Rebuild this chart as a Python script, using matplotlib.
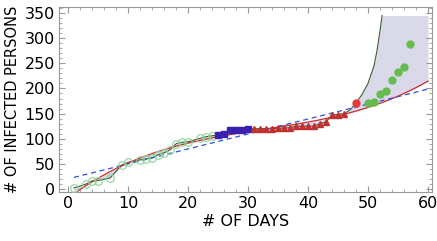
"""Infected persons per day with linear and cubic fits."""

import matplotlib.pyplot as plt
import numpy as np

# green open circles (early phase)
DAYS_A = [1, 3, 4, 5, 7, 9, 10, 12, 13, 14, 15, 16, 17, 18, 19, 20, 22, 23, 24]
CASES_A = [2, 10, 16, 17, 22, 48, 53, 58, 60, 62, 68, 72, 78, 90, 93, 94, 101, 104, 106]

# blue squares
DAYS_B = [25, 26, 27, 28, 29, 30]
CASES_B = [107, 110, 117, 117, 117, 120]

# red triangles
DAYS_C = [31, 32, 33, 34, 35, 36, 37, 38, 39, 40, 41, 42, 43, 44, 45, 46]
CASES_C = [120, 120, 120, 120, 121, 121, 122, 125, 125, 125, 125, 130, 133, 148, 148, 150]

# red circle
DAYS_D = [48]
CASES_D = [171]

# green filled circles (late phase)
DAYS_E = [50, 51, 52, 53, 54, 55, 56, 57]
CASES_E = [171, 174, 189, 195, 216, 233, 242, 288]

# smooth tail of the connecting line after day 46
TAIL_DAYS = [47, 48, 49, 50, 51, 51.5, 52, 52.35]
TAIL_CASES = [157, 171, 188, 210, 245, 275, 315, 345]

FIT_END = 48
CAP = 345


def main() -> None:
    fit_x = np.array(DAYS_A + DAYS_B + DAYS_C + DAYS_D, dtype=float)
    fit_y = np.array(CASES_A + CASES_B + CASES_C + CASES_D, dtype=float)
    mask = fit_x <= FIT_END
    lin = np.polyfit(fit_x[mask], fit_y[mask], 1)
    cub = np.polyfit(fit_x[mask], fit_y[mask], 3)

    line_x = np.array(DAYS_A + DAYS_B + DAYS_C + TAIL_DAYS, dtype=float)
    line_y = np.array(CASES_A + CASES_B + CASES_C + TAIL_CASES, dtype=float)

    xs = np.linspace(1, 60, 600)
    red = np.polyval(cub, xs)
    green = np.interp(xs, line_x, line_y, right=1e4)
    green = np.minimum(green, CAP)

    fig = plt.figure(figsize=(4.37, 2.41), dpi=100)
    ax = fig.add_axes([0.135, 0.203, 0.854, 0.768])

    ax.fill_between(xs, green, red, color="#d9d9ea", lw=0, zorder=1)
    ax.plot(line_x, line_y, color="#3d5a2e", lw=0.8, zorder=2)
    ax.plot(xs, red, color="#d42a2a", lw=0.9, zorder=3)
    xl = np.array([1, 60])
    ax.plot(xl, np.polyval(lin, xl), color="#3050e0", lw=0.9, ls=(0, (4, 3)), zorder=3)

    ax.plot(DAYS_A, CASES_A, "o", ms=5.5, mfc="none", mec="#8cd49a", mew=0.8, zorder=4)
    ax.plot(DAYS_B, CASES_B, "s", ms=4.5, color="#3a20b0", zorder=4)
    ax.plot(DAYS_C, CASES_C, "^", ms=4.5, color="#c03030", zorder=4)
    ax.plot(DAYS_D, CASES_D, "o", ms=5, color="#e83838", zorder=4)
    ax.plot(DAYS_E, CASES_E, "o", ms=5, color="#66bb4e", zorder=4)

    ax.set_xlim(-1.5, 60.7)
    ax.set_ylim(-6, 362)
    ax.set_xticks(range(0, 61, 10))
    ax.set_xticks(range(0, 61, 2), minor=True)
    ax.set_yticks(range(0, 351, 50))
    ax.set_yticks(range(0, 361, 10), minor=True)
    ax.tick_params(which="both", direction="in", top=True, right=True, color="#999999",
                   labelsize=11.5, pad=3)
    ax.tick_params(which="major", length=4)
    ax.tick_params(which="minor", length=2)
    for sp in ax.spines.values():
        sp.set_color("#999999")
        sp.set_linewidth(0.8)

    ax.set_xlabel("# OF DAYS", fontsize=11.5, labelpad=2)
    ax.set_ylabel("# OF INFECTED PERSONS", fontsize=10.5, labelpad=3)

    fig.savefig("out.png", dpi=100)
    plt.close(fig)


if __name__ == "__main__":
    main()
